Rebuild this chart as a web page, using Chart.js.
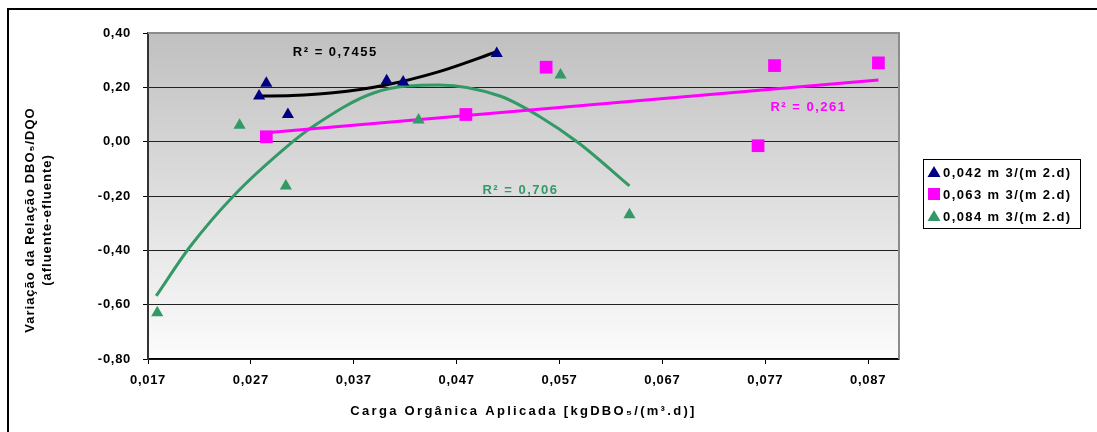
<!DOCTYPE html>
<html>
<head>
<meta charset="utf-8">
<script src="https://cdn.jsdelivr.net/npm/chart.js@4.4.1/dist/chart.umd.min.js"></script>
<style>
  html, body { margin: 0; padding: 0; background: #fff; }
  #wrap { width: 1097px; height: 432px; }
</style>
</head>
<body>
<div id="wrap"><canvas id="chart"></canvas></div>
<script>
// tick labels
const xTicks = [0.017, 0.027, 0.037, 0.047, 0.057, 0.067, 0.077, 0.087];
const yTicks = [-0.8, -0.6, -0.4, -0.2, 0, 0.2, 0.4];

const seriesNames = ['0,042 m 3/(m 2.d)', '0,063 m 3/(m 2.d)', '0,084 m 3/(m 2.d)'];

// 0,042 m3/(m2.d)
const load042 = [0.0278, 0.0285, 0.0306, 0.0402, 0.0418, 0.0509];
const ratio042 = [0.168, 0.215, 0.100, 0.224, 0.220, 0.325];
// 0,063 m3/(m2.d)
const load063 = [0.0285, 0.0479, 0.0557, 0.0763, 0.0779, 0.0880];
const ratio063 = [0.018, 0.100, 0.274, -0.015, 0.280, 0.290];
// 0,084 m3/(m2.d)
const load084 = [0.0179, 0.0259, 0.0304, 0.0433, 0.0571, 0.0638];
const ratio084 = [-0.630, 0.060, -0.163, 0.080, 0.245, -0.269];

// trendlines
const trend042X = [0.0278, 0.0310, 0.0350, 0.0400, 0.0453, 0.0509];
const trend042Y = [0.168, 0.170, 0.180, 0.208, 0.258, 0.331];
const trend063X = [0.0285, 0.0880];
const trend063Y = [0.033, 0.227];
const trend084X = [0.0178, 0.0211, 0.0254, 0.0305, 0.0330, 0.0390, 0.0453, 0.0512, 0.0551, 0.0589, 0.0638];
const trend084Y = [-0.568, -0.386, -0.196, -0.018, 0.055, 0.180, 0.209, 0.168, 0.092, -0.006, -0.163];

const r2Labels = ['R² = 0,7455', 'R² = 0,261', 'R² = 0,706'];

const navy = '#000080';
const magenta = '#ff00ff';
const green = '#339966';
const FONT = '"Liberation Sans", Arial, sans-serif';

const pts = (xs, ys) => xs.map((x, i) => ({ x: x, y: ys[i] }));
const comma = (v, d) => v.toFixed(d).replace('.', ',');

const extras = {
  id: 'extras',
  beforeDraw(chart) {
    const { ctx, chartArea: a } = chart;
    ctx.save();
    ctx.fillStyle = '#fff';
    ctx.fillRect(0, 0, chart.width, chart.height);
    const g = ctx.createLinearGradient(0, a.top, 0, a.bottom);
    g.addColorStop(0, 'rgb(192,192,192)');
    g.addColorStop(1, 'rgb(252,252,252)');
    ctx.fillStyle = g;
    ctx.fillRect(a.left, a.top, a.right - a.left, a.bottom - a.top);
    ctx.restore();
    ctx.letterSpacing = '0.7px';
  },
  afterDraw(chart) {
    const { ctx, chartArea: a, scales } = chart;
    const xs = scales.x, ys = scales.y;
    ctx.save();

    // plot border top / right
    ctx.strokeStyle = '#8c8c8c';
    ctx.lineWidth = 2;
    ctx.beginPath();
    ctx.moveTo(a.left, a.top);
    ctx.lineTo(a.right, a.top);
    ctx.lineTo(a.right, a.bottom);
    ctx.stroke();

    // outer frame
    ctx.strokeStyle = '#000';
    ctx.lineWidth = 2;
    ctx.strokeRect(8, 9, 1300, 600);

    // R² labels
    ctx.font = 'bold 13px ' + FONT;
    ctx.letterSpacing = '1.5px';
    ctx.textAlign = 'center';
    ctx.textBaseline = 'middle';
    ctx.fillStyle = '#000';
    ctx.fillText(r2Labels[0], xs.getPixelForValue(0.0352), ys.getPixelForValue(0.327));
    ctx.fillStyle = magenta;
    ctx.fillText(r2Labels[1], xs.getPixelForValue(0.0812), ys.getPixelForValue(0.125));
    ctx.fillStyle = green;
    ctx.fillText(r2Labels[2], xs.getPixelForValue(0.0532), ys.getPixelForValue(-0.180));

    // axis titles
    ctx.fillStyle = '#000';
    ctx.letterSpacing = '2.3px';
    ctx.fillText('Carga Orgânica Aplicada [kgDBO₅/(m³.d)]', (a.left + a.right) / 2, 411);
    ctx.letterSpacing = '1px';
    ctx.save();
    ctx.translate(30, 220);
    ctx.rotate(-Math.PI / 2);
    ctx.fillText('Variação da Relação DBO₅/DQO', 0, 0);
    ctx.fillText('(afluente-efluente)', 0, 17);
    ctx.restore();

    // legend
    ctx.strokeStyle = '#000';
    ctx.lineWidth = 1;
    ctx.strokeRect(923.5, 159.5, 157, 69);
    const colors = [navy, magenta, green];
    const shapes = ['tri', 'sq', 'tri'];
    const rowY = [172, 194, 216];
    ctx.textAlign = 'left';
    ctx.letterSpacing = '1.4px';
    for (let i = 0; i < 3; i++) {
      const cx = 934, cy = rowY[i];
      ctx.fillStyle = colors[i];
      if (shapes[i] === 'sq') {
        ctx.fillRect(cx - 6, cy - 6, 12, 12);
      } else {
        ctx.beginPath();
        ctx.moveTo(cx, cy - 6);
        ctx.lineTo(cx + 6.5, cy + 5);
        ctx.lineTo(cx - 6.5, cy + 5);
        ctx.closePath();
        ctx.fill();
      }
      ctx.fillStyle = '#000';
      ctx.fillText(seriesNames[i], 943, cy + 1);
    }
    ctx.restore();
  }
};

const trendStyle = (color) => ({
  type: 'line',
  showLine: true,
  borderColor: color,
  borderWidth: 3,
  pointRadius: 0,
  fill: false,
  cubicInterpolationMode: 'monotone'
});

new Chart(document.getElementById('chart').getContext('2d'), {
  type: 'scatter',
  data: {
    datasets: [
      { label: seriesNames[0], data: pts(load042, ratio042), pointStyle: 'triangle', pointRadius: 7, backgroundColor: navy, borderColor: navy, borderWidth: 0 },
      { label: seriesNames[1], data: pts(load063, ratio063), pointStyle: 'rect', pointRadius: 9, backgroundColor: magenta, borderColor: magenta, borderWidth: 0 },
      { label: seriesNames[2], data: pts(load084, ratio084), pointStyle: 'triangle', pointRadius: 7, backgroundColor: green, borderColor: green, borderWidth: 0 },
      Object.assign({ label: 't042', data: pts(trend042X, trend042Y) }, trendStyle('#000')),
      Object.assign({ label: 't063', data: pts(trend063X, trend063Y) }, trendStyle(magenta)),
      Object.assign({ label: 't084', data: pts(trend084X, trend084Y) }, trendStyle(green))
    ]
  },
  options: {
    responsive: true,
    maintainAspectRatio: false,
    devicePixelRatio: 1,
    animation: false,
    layout: { padding: { left: 0, top: 33, right: 198, bottom: 0 }, autoPadding: false },
    plugins: { legend: { display: false }, tooltip: { enabled: false } },
    scales: {
      x: {
        type: 'linear',
        min: 0.017,
        max: 0.090,
        afterBuildTicks: s => { s.ticks = xTicks.map(v => ({ value: v })); },
        afterFit: s => { s.height = 73; },
        grid: { drawOnChartArea: false, drawTicks: true, tickLength: 5, color: '#000' },
        border: { display: true, color: '#000', width: 1.5 },
        ticks: {
          autoSkip: false, maxRotation: 0, padding: 9, color: '#000',
          font: { family: FONT, size: 13, weight: 'bold' },
          callback: v => comma(v, 3)
        }
      },
      y: {
        type: 'linear',
        min: -0.8,
        max: 0.4,
        afterBuildTicks: s => { s.ticks = yTicks.map(v => ({ value: v })); },
        afterFit: s => { s.width = 148; },
        grid: {
          drawOnChartArea: true, drawTicks: true, tickLength: 5,
          color: c => (c.tick && c.tick.value >= 0.39) ? 'rgba(0,0,0,0)' : '#222',
          tickColor: '#000'
        },
        border: { display: true, color: '#333', width: 2 },
        ticks: {
          padding: 12, color: '#000',
          font: { family: FONT, size: 13, weight: 'bold' },
          callback: v => comma(v, 2)
        }
      }
    }
  },
  plugins: [extras]
});
</script>
</body>
</html>
